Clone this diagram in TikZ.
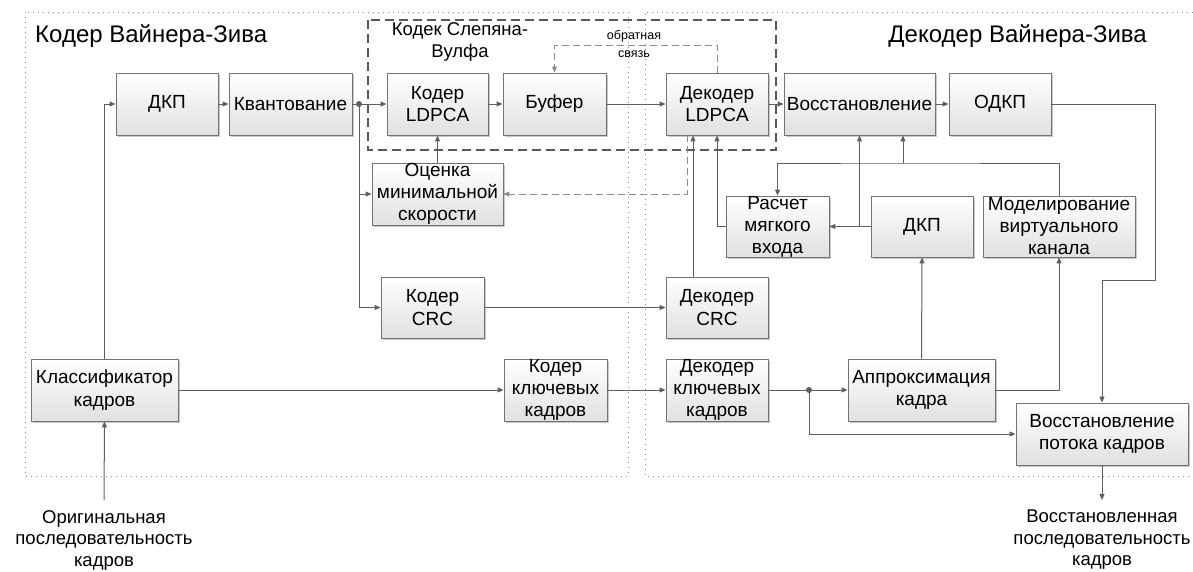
\documentclass[tikz,border=0pt]{standalone}
\usepackage{fontspec}
\setmainfont{Liberation Sans}
\usetikzlibrary{arrows.meta,shadows}
\definecolor{lc}{HTML}{5F5F5F}
\definecolor{bc}{HTML}{737373}
\definecolor{dc}{HTML}{8C8C8C}
\begin{document}
\begin{tikzpicture}[x=1pt,y=-1pt,
 box/.style={draw=bc, line width=0.9pt, top color=white, bottom color=black!12,
   drop shadow={shadow xshift=2pt, shadow yshift=-2pt, fill=black, opacity=0.22},
   minimum height=62pt, inner sep=0pt, align=center,
   font=\fontsize{19}{22.5}\selectfont},
 arr/.style={draw=lc, line width=1pt, -{Triangle[length=6pt,width=5pt]}},
 ln/.style={draw=lc, line width=1pt},
 fb/.style={draw=dc, line width=1pt, dash pattern=on 7pt off 4pt, -{Triangle[length=6pt,width=5pt]}},
 fbl/.style={draw=dc, line width=1pt, dash pattern=on 7pt off 4pt},
 dotbox/.style={draw=black!45, line width=1pt, dash pattern=on 1pt off 4pt},
 swbox/.style={draw=black!65, line width=1.1pt, dash pattern=on 9pt off 5pt},
 jdot/.style={circle, fill=lc, inner sep=0pt, minimum size=6pt},
 ttl/.style={font=\fontsize{24}{28}\selectfont, inner sep=0pt},
 lbl/.style={font=\fontsize{18.5}{21.5}\selectfont, align=center, inner sep=0pt},
 small/.style={font=\fontsize{12.5}{17.5}\selectfont, align=center, inner sep=0pt}
]
\useasboundingbox (0,0) rectangle (1193,571);

% frames
\draw[dotbox] (25,12) rectangle (628,476);
\draw[dotbox] (1193,12) -- (645,12) -- (645,476) -- (1193,476);
\draw[swbox] (368,20) rectangle (776,150);

% titles
\node[ttl, anchor=west] (t1) at (35,36) {Кодер Вайнера-Зива};
\node[ttl, anchor=east] (t2) at (1147,36) {Декодер Вайнера-Зива};
\node[lbl] (swl) at (460,42) {Кодек Слепяна-\\Вулфа};
\node[small] (fbl) at (634,44) {обратная\\связь};

% boxes
\node[box, minimum width=102pt] (dkp1) at (167,104) {ДКП};
\node[box, minimum width=123pt] (kvant) at (290.5,104) {Квантование};
\node[box, minimum width=101pt] (kldpc) at (437.5,104) {Кодер\\LDPCA};
\node[box, minimum width=103pt] (buf) at (554.5,104) {Буфер};
\node[box, minimum width=102pt] (dldpc) at (717,104) {Декодер\\LDPCA};
\node[box, minimum width=151pt] (vosst) at (859.5,104) {Восстановление};
\node[box, minimum width=102pt] (odkp) at (1000,104) {ОДКП};
\node[box, minimum width=131pt, font=\fontsize{19}{22}\selectfont] (ocenka) at (437.5,194) {Оценка\\минимальной\\скорости};
\node[box, minimum width=103pt, minimum height=61pt] (kcrc) at (432.5,307.5) {Кодер\\CRC};
\node[box, minimum width=102pt, minimum height=61pt] (dcrc) at (717,307.5) {Декодер\\CRC};
\node[box, minimum width=103pt, minimum height=61pt, font=\fontsize{19}{22}\selectfont] (rasch) at (777.5,226.5) {Расчет\\мягкого\\входа};
\node[box, minimum width=102pt, minimum height=61pt] (dkp2) at (922,226.5) {ДКП};
\node[box, minimum width=152pt, minimum height=61pt, font=\fontsize{19}{22}\selectfont] (model) at (1059,226.5) {Моделирование\\виртуального\\канала};
\node[box, minimum width=147pt] (klass) at (104.5,390) {Классификатор\\кадров};
\node[box, minimum width=103pt, font=\fontsize{19}{22}\selectfont] (kkey) at (555.5,390) {Кодер\\ключевых\\кадров};
\node[box, minimum width=102pt, font=\fontsize{19}{22}\selectfont] (dkey) at (717,390) {Декодер\\ключевых\\кадров};
\node[box, minimum width=147pt] (approx) at (921.5,390) {Аппроксимация\\кадра};
\node[box, minimum width=172pt] (vpot) at (1102,434) {Восстановление\\потока кадров};

% external labels
\node[lbl] (inl) at (104,540) {Оригинальная\\последовательность\\кадров};
\node[lbl] (outl) at (1102,540) {Восстановленная\\последовательность\\кадров};
\coordinate (in) at (104,500);
\coordinate (out) at (1102,500);

% coordinates
\coordinate (j1) at (359,104);
\coordinate (j2) at (809,390);
\coordinate (c1) at (1155,280);
\coordinate (c2) at (717,45);
\coordinate (c4) at (903,163);
\coordinate (c6) at (687,194);

% encoder connections
\draw[arr] (in) -- (klass.south);
\draw[arr] (klass.north) |- (dkp1.west);
\draw[arr] (dkp1) -- (kvant);
\draw[ln] (kvant.east) -- (j1);
\draw[arr] (j1) -- (kldpc.west);
\draw[arr] (j1) |- (ocenka.west);
\draw[arr] (j1) |- (kcrc.west);
\node[jdot] at (j1) {};
\draw[arr] (ocenka.north) -- (kldpc.south);
\draw[arr] (kldpc) -- (buf);
\draw[arr] (buf) -- (dldpc);
\draw[arr] (kcrc) -- (dcrc);
\draw[arr] (klass) -- (kkey);
\draw[arr] (kkey) -- (dkey);

% feedback
\draw[fb] (dldpc.north) |- (c2) -| (buf.north);
\draw[fb] ([xshift=-30pt]dldpc.south) |- (ocenka.east);

% decoder connections
\draw[arr] ([xshift=-24pt]dcrc.north) -- ([xshift=-24pt]dldpc.south);
\draw[arr] (rasch.west) -| (dldpc.south);
\draw[arr] (dldpc) -- (vosst);
\draw[arr] (vosst) -- (odkp);
\draw[arr] (odkp.east) -| (c1) -| (vpot.north);
\draw[arr] (dkp2.west) -- (rasch.east);
\draw[arr] (vosst.south |- dkp2.west) -- (vosst.south);
\draw[arr] (model.north) |- (c4) -| (rasch.north);
\draw[arr] (c4) -- (c4 |- vosst.south);
\draw[arr] (approx.north) -- (dkp2.south);
\draw[arr] (approx.east) -| (model.south);
\draw[ln] (dkey.east) -- (j2);
\draw[arr] (j2) -- (approx.west);
\draw[arr] (j2) |- (vpot.west);
\node[jdot] at (j2) {};
\draw[arr] (vpot.south) -- (out);
\end{tikzpicture}
\end{document}
